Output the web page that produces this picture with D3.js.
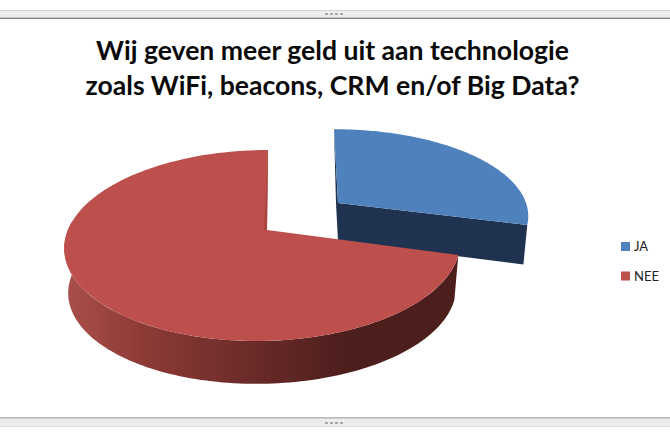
<!DOCTYPE html>
<html>
<head>
<meta charset="utf-8">
<script src="https://cdn.jsdelivr.net/npm/d3@7"></script>
<style>
html,body{margin:0;padding:0;background:#fff;}
svg{display:block;}
text{font-family:Lato,"Open Sans",sans-serif;}
</style>
</head>
<body>
<div id="chart"></div>
<script>
var categories = ["JA","NEE"],
	shares = [29,71],
	colours = ["#4f81bd","#bd4f4c"],
	title_lines = ["Wij geven meer geld uit aan technologie","zoals WiFi, beacons, CRM en/of Big Data?"];

var width = 670,
	height = 440,
	depth = 43,
	tilt = 0.152;

var svg = d3.select("#chart").append("svg")
	.attr("width",width)
	.attr("height",height);

// gradient for the outer wall of the big slice
var grad = svg.append("defs").append("linearGradient")
	.attr("id","wall")
	.attr("gradientUnits","userSpaceOnUse")
	.attr("x1",65).attr("x2",458).attr("y1",0).attr("y2",0);

grad.selectAll("stop")
	.data([[0,"#a94f4b"],[0.2,"#8d3a36"],[0.5,"#672a28"],[0.72,"#4c1e1c"],[1,"#4c1e1c"]])
	.enter().append("stop")
	.attr("offset",function(d){return d[0]})
	.attr("stop-color",function(d){return d[1]});

// pie angles from d3, the rim is a circle seen in perspective
var arcs = d3.pie().sort(null).value(function(d){return d})(shares);

var geom = [
	{ax:338,ay:203,rimx:334,rimy:203,A:192,B:85,skew:0},
	{ax:267,ay:230,rimx:263,rimy:231,A:195.5,B:93.3,skew:5.8}
];

function rim(g,theta,drop,shrink){
	var u = Math.sin(theta), v = -Math.cos(theta), w = 1-tilt*v;
	return [
		g.rimx+shrink*(g.A*u-g.skew*v)/w,
		g.rimy+drop+shrink*g.B*v/w
	];
}

function rim_points(g,a0,a1,drop,shrink){
	return d3.range(0,121).map(function(i){
		return rim(g,a0+(a1-a0)*i/120,drop,shrink);
	});
}

var line = d3.line();

// blue slice goes first, the red one sits in front of it
var b = geom[0], ba = arcs[0];
var b_end = rim(b,ba.endAngle,0,1), b_end_low = rim(b,ba.endAngle,depth-3,0.98);
var b_start = rim(b,ba.startAngle,0,1);

svg.append("path")
	.attr("d",line([b_start,[b.ax,b.ay],[b.ax,b.ay+38],[b.ax-2,b.ay]])+"Z")
	.attr("fill","#1f3350");

svg.append("path")
	.attr("d",line([[b.ax,b.ay],b_end,b_end_low,[b.ax,b.ay+38]])+"Z")
	.attr("fill","#1f3350");

svg.append("path")
	.attr("d",line([[b.ax,b.ay]].concat(rim_points(b,ba.startAngle,ba.endAngle,0,1)))+"Z")
	.attr("fill",colours[0]);

var r = geom[1], ra = arcs[1];

// outer wall, only the part facing the viewer
var wall_from = ra.startAngle, wall_to = 3*Math.PI/2+0.1;
var wall_top = rim_points(r,wall_from,wall_to,0,1),
	wall_low = rim_points(r,wall_from,wall_to,depth+2,0.98).reverse();

svg.append("path")
	.attr("d",line(wall_top.concat(wall_low))+"Z")
	.attr("fill","url(#wall)");

svg.append("path")
	.attr("d",line([[r.ax,r.ay]].concat(rim_points(r,ra.startAngle,ra.endAngle,0,1)))+"Z")
	.attr("fill",colours[1]);

// thin shaded edge where the red slice is cut, top left of the gap
svg.append("path")
	.attr("d",line([rim(r,ra.endAngle,0,1),[r.ax,r.ay],[r.ax-3,r.ay]])+"Z")
	.attr("fill","#a8453f");

// title
svg.selectAll(".title").data(title_lines).enter().append("text")
	.attr("class","title")
	.attr("x",332.5)
	.attr("y",function(d,i){return 60+i*35})
	.attr("text-anchor","middle")
	.attr("font-size",26.6)
	.attr("font-weight",700)
	.attr("fill","#0a0a0a")
	.text(function(d){return d});

// legend
var legend = svg.selectAll(".legend").data(categories).enter().append("g")
	.attr("class","legend")
	.attr("transform",function(d,i){return "translate(621,"+(242+i*29.5)+")"});

legend.append("rect")
	.attr("width",9).attr("height",9)
	.attr("fill",function(d,i){return colours[i]});

legend.append("text")
	.attr("x",13).attr("y",9)
	.attr("font-size",13)
	.attr("fill","#222")
	.text(function(d){return d});

// window bars above and below the chart
[[10,8],[418,9]].forEach(function(d){
	svg.append("rect").attr("x",0).attr("y",d[0]).attr("width",width).attr("height",d[1]).attr("fill","#ececec");
});
[[10,"#d4d4d4"],[17,"#c4c4c4"],[18,"#808080"],[417,"#b8b8b8"],[418,"#cfcfcf"],[426,"#dedede"]].forEach(function(d){
	svg.append("rect").attr("x",0).attr("y",d[0]).attr("width",width).attr("height",1).attr("fill",d[1]);
});

// grip dots in the middle of each bar
[13,422].forEach(function(y){
	svg.selectAll(null).data(d3.range(4)).enter().append("rect")
		.attr("x",function(i){return 325+i*5})
		.attr("y",y)
		.attr("width",3).attr("height",2)
		.attr("fill","#a8a8a8");
});

</script>
</body>
</html>
